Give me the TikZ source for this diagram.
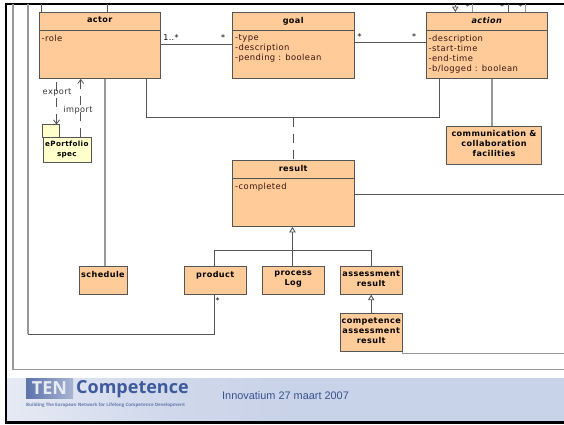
\documentclass[tikz,border=0pt]{standalone}
\usepackage{fontspec}
\setmainfont[LetterSpace=5]{DejaVu Sans}
\newfontfamily\arialf{Liberation Sans}
\newfontfamily\logof{Open Sans}
\usetikzlibrary{arrows.meta,shapes.geometric}
\definecolor{boxfill}{HTML}{FFCC99}
\definecolor{pkgfill}{HTML}{FFFFCC}
\definecolor{ln}{HTML}{555555}
\definecolor{gl}{HTML}{999999}
\definecolor{band}{HTML}{C8D2E8}
\definecolor{bandl}{HTML}{E6EAF4}
\definecolor{ink}{HTML}{3A1414}
\definecolor{navy}{HTML}{3F5A9C}
\tikzset{
  umlbox/.style={draw=ln,fill=boxfill,line width=0.9pt,anchor=north west,inner sep=0pt,xshift=-0.5pt,yshift=0.5pt},
  boxtitle/.style={anchor=north,inner sep=0pt,font=\fontsize{8.1}{10}\bfseries\selectfont,align=center,text=black,yshift=-5pt},
  attr/.style={anchor=north west,inner sep=0pt,align=left,font=\fontsize{8.4}{10}\selectfont,text=ink},
  mult/.style={anchor=center,inner sep=0pt,font=\fontsize{8}{8}\selectfont,text=black},
  dep/.style={anchor=center,inner sep=0pt,font=\fontsize{8.2}{8}\selectfont,text=black!80},
  assoc/.style={draw=ln,line width=0.9pt},
  light/.style={draw=gl,line width=1.2pt},
  dashedline/.style={draw=ln,line width=0.8pt,dash pattern=on 9pt off 7pt},
  gen/.style={draw=ln,line width=0.9pt,-{Triangle[open,length=5.5pt,width=6.5pt,fill=white]}},
  opendep/.style={draw=ln,line width=0.8pt,dash pattern=on 9pt off 7pt,-{Straight Barb[length=4pt,width=6pt]}},
}
\begin{document}
\begin{tikzpicture}[x=1pt,y=-1pt]
\useasboundingbox (0,0) rectangle (564,424);
\fill[white] (0,0) rectangle (564,424);
% footer band
\shade[left color=bandl,right color=band,middle color=band!70!bandl] (6,378) rectangle (300,421);
\fill[band] (300,378) rectangle (564,421);
% slide frame
\fill[black] (5,3) rectangle (564,4.7);
\fill[black] (5,3) rectangle (6.7,424);
\fill[black] (5,421) rectangle (564,424);
\coordinate (frameTL) at (13,4);
\coordinate (frameBL) at (13,369.5);
\coordinate (frameBR) at (564,369.5);
\draw[light] (frameTL) -- (frameBL) -- (frameBR);
% boxes
\node[umlbox,minimum width=121.5pt,minimum height=66pt,label={[boxtitle]north:actor}] (actor) at (39,12.5) {};
\node[umlbox,minimum width=121.5pt,minimum height=66pt,label={[boxtitle]north:goal}] (goal) at (232.5,12.5) {};
\node[umlbox,minimum width=121.5pt,minimum height=66pt,label={[boxtitle]north:\itshape action}] (action) at (426,12.5) {};
\node[umlbox,minimum width=121.5pt,minimum height=66pt,label={[boxtitle]north:result}] (result) at (232.5,160.5) {};
\node[umlbox,minimum width=94.5pt,minimum height=38pt,label={[boxtitle]north:{communication \&\\collaboration\\facilities}}] (comm) at (446.8,126) {};
\node[umlbox,minimum width=48pt,minimum height=28pt,label={[boxtitle]north:schedule}] (schedule) at (79,266.3) {};
\node[umlbox,minimum width=62.5pt,minimum height=28pt,label={[boxtitle]north:product}] (product) at (184,266.3) {};
\node[umlbox,minimum width=62.5pt,minimum height=28pt,label={[boxtitle]north:{process\\Log}}] (process) at (262,266.3) {};
\node[umlbox,minimum width=62.5pt,minimum height=28pt,label={[boxtitle]north:{assessment\\result}}] (assess) at (340,266.3) {};
\node[umlbox,minimum width=62.5pt,minimum height=38.5pt,label={[boxtitle]north:{competence\\assessment\\result}}] (compet) at (340,313) {};
% compartments
\draw[assoc] (actor.west |- 0,30.5) -- (actor.east |- 0,30.5);
\draw[assoc] (goal.west |- 0,30.5) -- (goal.east |- 0,30.5);
\draw[assoc] (action.west |- 0,30.5) -- (action.east |- 0,30.5);
\draw[assoc] (result.west |- 0,178) -- (result.east |- 0,178);
\node[attr] (actorattr) at (41.5,34.5) {-role};
\node[attr] (goalattr) at (235,34.5) {-type\\-description\\-pending : boolean};
\node[attr] (actionattr) at (428.5,34.5) {-description\\-start-time\\-end-time\\-b/logged : boolean};
\node[attr] (resultattr) at (235,182.5) {-completed};
% package
\draw[ln,fill=pkgfill,line width=0.7pt] (42.5,124.5) rectangle (59.5,137);
\node[draw=ln,fill=pkgfill,line width=0.7pt,anchor=north west,inner sep=0pt,minimum width=48pt,minimum height=24.5pt,align=center,
  font=\fontsize{7.2}{10}\bfseries\selectfont] (pkg) at (42.5,137) {ePortfolio\\spec};
% connectors
\draw[assoc] (actor.east |- 0,44.5) -- (goal.west |- 0,44.5);
\draw[assoc] (goal.east |- 0,42) -- (action.west |- 0,42);
\draw[assoc] (146.5,0 |- actor.south) -- (146.5,117.5) -- (439.3,117.5) -- (439.3,0 |- action.south);
\coordinate (assocMid) at (293.3,117.5);
\draw[dashedline] (assocMid) -- (293.3,0 |- result.north);
\draw[light] (492,0 |- action.south) -- (492,0 |- comm.north);
\draw[light] (105,0 |- actor.south) -- (105,0 |- schedule.north);
\coordinate (topA) at (28,4);
\draw[light] (topA) -- (28,334);
\draw[assoc] (28,334) -- (214.5,334) -- (214.5,0 |- product.south);
\coordinate (resultOut) at (564,194.3);
\draw[assoc] (result.east |- resultOut) -- (resultOut);
\coordinate (competOut) at (564,353.7);
\draw[light] (402.5,351.5) -- (402.5,353.7) -- (competOut);
\draw[assoc] (41.8,4) -- (41.8,0 |- actor.north);
\draw[assoc] (107.5,4) -- (107.5,0 |- actor.north);
\draw[assoc] (508.7,4) -- (508.7,0 |- action.north);
\draw[light] (472.7,4) -- (472.7,0 |- action.north);
\draw[light] (525.7,4) -- (525.7,0 |- action.north);
\draw[gen] (455.3,4) -- (455.3,0 |- action.north);
% generalisations
\draw[gen] (292.5,0 |- process.north) -- (292.5,0 |- result.south);
\draw[assoc] (214.5,0 |- product.north) -- (214.5,250.3) -- (371.5,250.3) -- (371.5,0 |- assess.north);
\draw[gen] (compet.north) -- (assess.south);
% dependencies
\draw[opendep] (56.5,82) -- (56.5,124.5);
\draw[opendep] (80.7,0 |- pkg.north) -- (80.7,0 |- actor.south);
\node[dep] (export) at (57,92) {export};
\node[dep] (import) at (78,110.5) {import};
% multiplicities
\node[mult] (m1) at (171,37.5) {1..*};
\node[mult] (m2) at (223,37.5) {*};
\node[mult] (m3) at (359.5,36.5) {*};
\node[mult] (m4) at (414,36.5) {*};
\node[mult] (m5) at (217.5,300.5) {*};
\node[mult] (m6) at (467.5,7) {*};
\node[mult] (m7) at (502,7) {*};
\node[mult] (m8) at (520.5,7) {*};
% logo
\shade[left color=navy!85,right color=navy!45] (26,378) rectangle (73,398);
\node[anchor=center,inner sep=0pt,text=white!88!navy,font=\logof\bfseries\fontsize{18}{20}\selectfont] (ten) at (49.5,388) {TEN};
\node[anchor=west,inner sep=0pt,text=navy,font=\logof\bfseries\fontsize{18}{20}\selectfont] (logotext) at (76,389) {Competence};
\node[anchor=west,inner sep=0pt,text=navy!80,font=\logof\bfseries\fontsize{4.5}{5}\selectfont] (tagline) at (26,405) {Building The European Network for Lifelong Competence Development};
\node[anchor=west,inner sep=0pt,text=navy!90!black,font=\arialf\fontsize{10.9}{12}\selectfont] (date) at (222,396) {Innovatium 27 maart 2007};
\end{tikzpicture}
\end{document}
